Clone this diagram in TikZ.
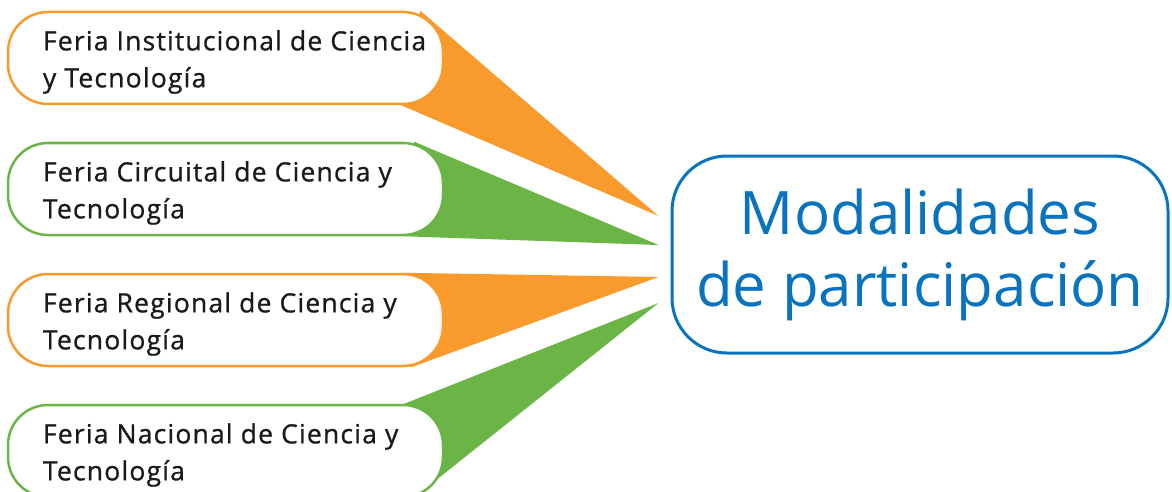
\documentclass[tikz,border=0pt]{standalone}
\usepackage{fontspec}
\setmainfont{Open Sans}
\usetikzlibrary{positioning,backgrounds}
\definecolor{feriaorange}{HTML}{F89A2C}
\definecolor{feriagreen}{HTML}{6BB547}
\definecolor{modblue}{HTML}{0A73BE}
\definecolor{feriaink}{HTML}{1A1A1A}
\tikzset{
  feriabox/.style={draw=#1, line width=2.5pt, fill=white, rounded corners=40pt,
    minimum width=435pt, minimum height=92pt, inner sep=0pt},
  feriatext/.style={anchor=west, align=left, inner sep=0pt, text=feriaink,
    font=\fontsize{26.5}{37}\selectfont\addfontfeature{LetterSpace=4.5,FakeBold=0.8}},
  wedgefill/.style={fill=#1},
}

\begin{document}
\begin{tikzpicture}[x=1pt,y=-1pt]
\useasboundingbox (0,0) rectangle (1172,492);
%center
\node[draw=modblue, line width=3pt, rounded corners=55pt, minimum width=496pt,
  minimum height=197pt, align=center, text=modblue,
  font=\fontsize{60}{72}\selectfont] (main) at (920,254.5) {Modalidades\\de participación};
%tips
\coordinate (tip1) at ([shift={(-12,-38.5)}]main.west);
\coordinate (tip2) at ([shift={(-12,-9.5)}]main.west);
\coordinate (tip3) at ([shift={(-12,22.5)}]main.west);
\coordinate (tip4) at ([shift={(-12,48.5)}]main.west);
%boxes
\node[feriabox=feriaorange] (b1) at (225.5,58) {};
\node[feriabox=feriagreen] (b2) at (225.5,189) {};
\node[feriabox=feriaorange] (b3) at (225.5,320) {};
\node[feriabox=feriagreen] (b4) at (225.5,451) {};
\node[feriatext] (t1) at ([shift={(36,4)}]b1.west) {Feria Institucional de Ciencia\\y Tecnología};
\node[feriatext] (t2) at ([shift={(36,4)}]b2.west) {Feria Circuital de Ciencia y\\Tecnología};
\node[feriatext] (t3) at ([shift={(36,4)}]b3.west) {Feria Regional de Ciencia y\\Tecnología};
\node[feriatext] (t4) at ([shift={(36,4)}]b4.west) {Feria Nacional de Ciencia y\\Tecnología};
%wedges
\begin{scope}[on background layer]
\fill[wedgefill=feriaorange] ([xshift=-24pt]b1.north east) -- (tip1) -- ([xshift=-43pt]b1.south east) -- cycle;
\fill[wedgefill=feriagreen] ([xshift=-30pt]b2.north east) -- (tip2) -- ([xshift=-40pt]b2.south east) -- cycle;
\fill[wedgefill=feriaorange] ([xshift=-43pt]b3.north east) -- (tip3) -- ([xshift=-33pt]b3.south east) -- cycle;
\fill[wedgefill=feriagreen] ([xshift=-40pt]b4.north east) -- (tip4) -- ([xshift=-31pt]b4.south east) -- cycle;
\end{scope}
\end{tikzpicture}
\end{document}
